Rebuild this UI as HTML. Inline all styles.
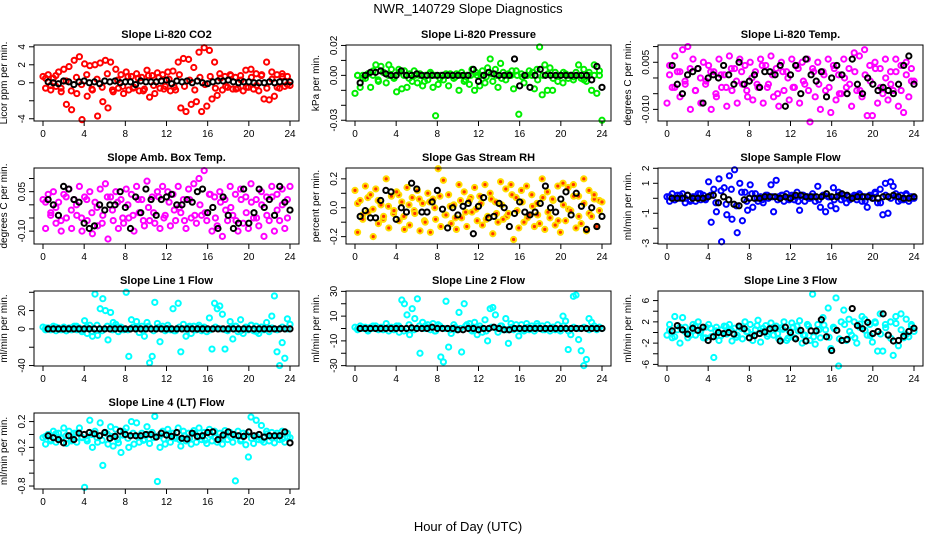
<!DOCTYPE html>
<html><head><meta charset="utf-8"><style>
body{margin:0;background:#fff}
svg{display:block;font-family:"Liberation Sans",sans-serif}
</style></head><body>
<svg id="chart" width="936" height="540" viewBox="0 0 936 540" xmlns="http://www.w3.org/2000/svg">
<rect width="936" height="540" fill="#fff"/>
<text x="468" y="13" text-anchor="middle" font-size="13">NWR_140729  Slope Diagnostics</text>
<text x="468" y="531" text-anchor="middle" font-size="13">Hour of Day (UTC)</text>
</svg>
<script>
const xTicks=[0,4,8,12,16,20,24];
const co2Values=[0.7,-0.6,0.9,-0.8,0.5,-0.4,1.2,-1.0,1.5,-2.4,1.8,-3.0,2.5,-1.2,2.9,-4.1,2.1,-1.5,1.9,-0.8,2.0,-3.7,2.2,-2.1,2.5,-2.8,2.3,-1.0,1.5,-0.6,0.9,-1.2,1.2,-0.8,0.7,-0.5,1.0,-0.9,0.6,-0.7,1.4,-1.6,0.8,-1.2,1.1,-0.6,0.9,-0.4,1.2,-0.9,1.3,-0.8,2.3,-2.8,2.7,-3.2,2.6,-2.4,1.7,-2.1,3.4,-3.2,3.9,-2.6,3.6,-1.8,2.3,-1.4,1.0,-0.8,0.7,-0.5,0.9,-0.7,0.6,-0.6,0.8,-0.9,1.4,-0.5,1.5,-0.7,1.0,-0.9,0.8,-1.8,2.3,-1.9,1.2,-1.5,0.9,-0.6,1.0,-0.4,0.7,-0.3];
const co2Core=[0.5,-0.3,0.8,-0.6,0.2,-0.9,0.6,-0.2,0.9,-0.7,0.4,-0.5,1.0,-0.8,0.3,-0.4,0.7,-0.6,0.5,-0.9,0.8,-0.3,0.6,-0.7,0.4,-0.5,0.9,-0.4,0.3,-0.8,0.6,-0.2,0.7,-0.6,0.5,-0.4,0.8,-0.7,0.3,-0.5,0.6,-0.3,0.9,-0.6,0.4,-0.5,0.7,-0.2];
const co2Mean=[0.1,0,-0.1,0.2,0.1,-0.2,0.1,0.2,0,0.1,-0.1,0.2,0.1,0.2,0,0.1,0.1,-0.2,0.2,0.1,0.1,0.1,0.2,0.3,-0.1,0.2,0.1,0.2,0,0.2,0,-0.1,0.1,0.2,0.2,0.3,0.1,0,0.1,0.1,0,0,0,0.1,0,0.1,0.1,0.1];
const presValues=[-0.012,0,-0.008,0.000,-0.002,0.001,-0.008,0.003,0.007,-0.004,0.006,0.002,-0.005,0.007,0.004,-0.002,-0.011,0.002,-0.009,0.003,-0.008,0.001,-0.004,0.000,-0.005,0.001,-0.007,0.000,-0.003,0.002,-0.008,-0.027,-0.006,0.000,-0.003,0.001,-0.007,0.000,-0.002,0.001,-0.010,0.002,-0.004,0.000,-0.006,0.004,-0.010,0.000,-0.007,0.003,-0.005,0.005,0.011,-0.004,0.004,-0.008,0.008,0.002,-0.003,0.001,0.000,-0.009,0.003,-0.026,0.001,-0.005,0.000,0.003,0.000,-0.009,0.004,0.019,-0.013,0.007,-0.010,0.005,-0.010,0.002,-0.004,0.000,-0.005,0.001,-0.002,0.000,-0.003,0.002,0.007,-0.002,0.004,-0.004,0.000,-0.010,0.007,-0.012,0.003,-0.030];
const presCore=[0,-0.002,0.001,0,-0.003,0.002,0,-0.001,0.004,0,-0.002,0.003,0,-0.004,0.001,0,-0.002,0,0.001,-0.001,0,-0.003,0,0.002,0,-0.001,0.001,0,-0.002,0,0.003,0,-0.001,0,0.002,-0.003,0,0.001,-0.002,0,0.002,0,-0.001,0,-0.003,0.002,0,0];
const presMean=[-0.005,0,0.002,0.002,0.003,0.001,0,0,0.003,0,0,0.001,0,0,0,0,0,0,0,0,0,0,0.004,-0.004,0,0.002,0.001,0,0,0,0.011,-0.007,0,-0.008,0,0.004,0,0,0,0,0,0,0,0,0,-0.003,0.006,-0.008];
const licTempValues=[-0.008,0.004,-0.003,0.007,0.002,-0.006,0.009,-0.002,0.010,-0.010,0.006,-0.004,0.003,-0.008,0.005,-0.001,0.004,-0.010,0.002,-0.006,0.006,-0.003,0.001,-0.009,0.007,-0.004,0.003,-0.008,0.006,-0.002,0.004,-0.006,0.005,-0.007,0.002,-0.003,0.006,-0.008,0.004,-0.002,0.007,-0.006,0.003,-0.009,0.005,-0.004,0.002,-0.007,0.006,-0.003,0.004,-0.008,0.005,-0.002,0.006,-0.014,0.003,-0.006,0.005,-0.010,0.002,-0.004,0.006,-0.011,0.004,-0.007,0.001,-0.005,0.006,-0.003,0.003,-0.009,0.008,-0.004,0.007,-0.006,0.009,-0.012,0.004,-0.012,0.005,-0.008,0.003,-0.005,0.006,-0.007,0.002,-0.004,0.006,-0.009,0.004,-0.011,0.005,-0.006,0.003,-0.001];
const licTempCore=[0.001,-0.003,0.002,-0.001,0.003,-0.004,0,-0.002,0.002,-0.005,0.001,-0.003,0.003,-0.001,0.002,-0.004,0,-0.002,0.004,-0.003,0.001,-0.005,0.002,0,-0.003,0.003,-0.001,-0.004,0.002,-0.002,0.001,-0.003,0.003,-0.005,0,-0.002,0.002,-0.004,0.001,-0.001,0.003,-0.003,0,-0.002,0.002,-0.004,0.001,-0.001];
const licTempMean=[0.004,-0.002,-0.005,0.001,0.002,0.003,-0.008,0,0.001,0,0.004,0.001,-0.002,0.005,-0.002,-0.001,0.001,-0.003,0.002,0.002,0.001,0.004,-0.009,0.001,0.004,-0.005,0.006,0.001,-0.001,0.002,-0.006,0,0.004,0.001,-0.005,0.006,-0.002,-0.005,0,-0.002,-0.004,-0.003,-0.004,-0.005,-0.002,0.004,0.007,-0.002];
const boxTempValues=[0.02,-0.09,0.04,-0.03,0.05,-0.07,0.01,-0.10,0.04,-0.05,0.06,-0.09,0.02,-0.04,0.07,-0.10,0.03,-0.06,0.05,-0.11,0.01,-0.08,0.06,-0.04,0.08,-0.13,0.03,-0.06,0.05,-0.09,0.02,-0.07,0.06,-0.05,0.04,-0.10,0.07,-0.03,0.02,-0.08,0.09,-0.06,0.03,-0.07,0.05,-0.09,0.07,-0.04,0.05,-0.08,0.04,-0.06,0.07,-0.03,0.02,-0.09,0.06,-0.05,0.08,-0.07,0.10,-0.04,0.13,-0.06,0.04,-0.10,0.03,-0.08,0.05,-0.12,0.02,-0.06,0.07,-0.04,0.04,-0.10,0.06,-0.07,0.03,-0.09,0.08,-0.05,0.02,-0.08,0.05,-0.12,0.03,-0.06,0.07,-0.10,0.04,-0.06,0.06,-0.09,0.02,0.07];
const boxTempCore=[0.01,-0.04,-0.01,-0.06,0.03,-0.02,0,-0.05,0.02,-0.03,-0.01,-0.07,0.03,-0.02,0.01,-0.05,0,-0.04,0.02,-0.06,-0.01,-0.03,0.03,-0.05,0.01,-0.02,-0.01,-0.06,0.02,-0.04,0,-0.03,0.04,-0.05,0.01,-0.02,-0.01,-0.06,0.02,-0.03,0.01,-0.05,0,-0.04,0.03,-0.02,0,-0.05];
const boxTempMean=[0.02,0.00,-0.04,0.07,0.06,0.02,0.01,-0.07,-0.09,-0.08,0.00,-0.02,0.00,0.00,0.05,-0.01,-0.09,0.03,-0.03,0.06,0.02,-0.04,0.02,0.03,0.04,0.00,0.00,0.02,0.01,0.05,0.06,-0.03,-0.01,-0.09,0.03,-0.04,-0.09,-0.07,0.06,-0.07,-0.03,0.06,-0.01,0.02,-0.04,0.07,0.01,-0.02];
const rhValues=[0.12,-0.17,0.05,-0.08,0.15,-0.03,0.09,-0.20,0.13,-0.11,0.02,-0.06,0.20,-0.14,0.08,-0.02,0.11,-0.09,0.04,-0.15,0.14,-0.12,0.07,-0.04,0.12,-0.16,0.03,-0.10,0.10,-0.17,0.06,-0.08,0.27,-0.13,0.19,-0.05,0.09,-0.11,0.02,-0.15,0.16,-0.07,0.11,-0.13,0.05,-0.03,0.14,-0.09,0.08,-0.12,0.16,-0.06,0.10,-0.18,0.04,-0.10,0.18,-0.08,0.13,-0.04,0.16,-0.22,0.07,-0.14,0.12,-0.10,0.15,-0.05,0.09,-0.13,0.03,-0.11,0.20,-0.15,0.11,-0.07,0.06,-0.12,0.15,-0.17,0.17,-0.09,0.14,-0.02,0.16,-0.14,0.08,-0.11,0.20,-0.16,0.12,-0.06,0.09,-0.13,0.05,0.04];
const rhCore=[0.03,-0.05,0.07,-0.01,0.05,-0.08,0.01,-0.04,0.09,-0.06,0.02,-0.02,0.06,-0.09,0.04,0,0.08,-0.05,0.01,-0.07,0.05,-0.03,0.07,-0.01,0.03,-0.08,0.06,-0.04,0.02,-0.06,0.09,-0.02,0.04,-0.07,0.01,-0.05,0.07,-0.03,0.05,-0.09,0.02,-0.01,0.08,-0.06,0.03,-0.04,0.06,-0.02];
const rhMean=[-0.06,-0.02,-0.07,-0.07,0.05,0.12,0.11,-0.08,0.00,-0.03,0.17,0.13,-0.03,-0.03,0.04,0.12,-0.01,-0.14,0.00,-0.05,0.01,0.03,-0.18,0.01,0.07,-0.07,-0.06,0.03,0.00,-0.13,-0.04,0.04,-0.03,-0.05,-0.03,0.03,0.15,0.00,-0.03,0.06,0.11,-0.05,0.10,0.01,-0.15,0.00,-0.13,-0.06];
const sampleValues=[0.1,-0.2,0.3,-0.1,0.2,0.0,0.3,-0.3,0.2,-0.1,0.1,-0.2,0.3,-0.1,0.2,0.0,1.1,-1.6,0.6,-0.9,1.3,-2.9,0.7,-1.1,1.5,-1.4,1.9,-2.3,1.0,-1.5,0.4,-0.8,0.9,-0.6,0.3,-0.2,0.1,-0.3,0.2,0.0,0.9,-0.9,1.2,0.1,0.2,-0.2,0.3,-0.1,0.2,-0.1,0.4,-0.8,0.2,-0.2,0.1,0.0,0.3,-0.2,0.8,-0.6,0.2,-0.9,0.1,-0.5,0.7,-0.7,0.4,-0.1,0.2,-0.3,0.1,0.0,0.2,-0.1,0.3,-0.2,0.1,-0.6,0.2,0.0,0.4,-0.3,0.6,-1.1,1.0,-1.0,1.1,0.8,0.3,-0.2,0.2,-0.1,0.3,-0.2,0.1,0.0];
const sampleCore=[0.1,-0.1,0.2,0,-0.2,0.1,0.3,-0.1,0.2,-0.3,0.5,-0.4,0.6,-0.5,0.4,-0.2,0.3,0,-0.1,0.2,0.1,-0.1,0.2,0,0.1,-0.2,0.2,0,0.1,-0.1,0.2,0.1,-0.1,0.2,0,-0.1,0.1,0.2,-0.2,0.1,0.3,-0.3,0.2,0,0.1,-0.1,0.2,0];
const sampleMean=[0,0,0,0.2,0,0,0,0.1,0.2,-0.3,0.1,-0.1,-0.4,-0.5,-0.1,0,0,0,0.1,0.1,0.1,0,0.1,0,0.2,0.2,0.1,0.1,0.1,0.1,0.3,0.1,0.1,0.3,0.2,0,0.1,0.1,0.1,0,0,0.1,0.1,0.2,0.1,0,0,0.1];
const line1Values=[2,-1,1,0,3,-2,1,-1,2,-2,1,-1,3,-1,1,-3,9,-5,4,-8,38,-7,22,33,20,-12,18,7,5,-3,2,-1,40,-30,10,2,8,-4,3,-8,7,-37,-30,29,6,-14,3,-2,4,-1,22,-2,28,-25,5,-8,2,-5,3,-1,4,-2,2,-3,12,-22,28,22,25,16,-22,-2,8,-11,3,-3,10,-5,2,-1,4,-2,3,-5,2,-1,7,-3,14,36,-25,-40,-15,-32,11,5];
const line1Core=[1,-1,2,0,-2,1,3,-1,2,-3,4,-2,3,-1,2,0,-1,2,1,-1,3,-2,2,0,1,-2,2,0,3,-1,2,1,-1,2,0,-1,1,3,-2,1,4,-3,2,0,1,-1,2,0];
const line1Mean=[0,0,0,0,0,0,0,0,0,0,0,0,0,0,0,0,0,0,0,0,0,0,0,0,0,0,0,0,0,0,0,0,0,0,0,0,0,0,0,0,0,0,0,0,0,0,0,0];
const line2Values=[1,-1,2,0,1,-2,1,0,2,-1,1,0,4,-2,1,-1,2,-3,23,20,11,-5,16,8,24,-20,5,2,3,-1,4,-2,3,-23,-27,22,-15,-4,3,-1,13,-19,20,3,4,-2,5,-5,2,-3,7,-10,16,17,11,-3,2,-1,8,-12,4,-1,3,-6,3,-2,4,-1,2,-2,4,0,2,-1,3,-2,1,-1,3,-2,10,6,-17,-5,26,27,-9,-18,-30,-25,8,5,2,-1,1,0];
const line2Core=[0,1,-1,2,0,-1,1,0,2,-2,3,-1,2,0,1,-2,2,0,-1,1,0,2,-1,1,0,-2,1,0,2,-1,1,0,-1,1,0,2,-1,0,1,-1,2,-2,1,0,1,-1,0,1];
const line2Mean=[0,0,0,0,0,0,0,0,0,0,0.5,0,0,0,1,0,0,0,0,-1,-1,0,0,-1,0,0,1,0,-1,-1,0,0,0,0,0,0,0,0,0,0,0,0,0,0,0,0,0,0];
const line3Values=[-0.5,1.5,-1.0,3.0,0.5,-2.0,2.8,1.0,-1.0,0.5,1.5,-0.5,2.0,0.3,-1.0,1.0,1.5,-0.8,-4.7,1.0,-1.5,0.5,1.2,-0.3,1.5,-1.6,0.8,-0.5,1.0,-1.2,2.0,0.2,1.5,-1.5,0.5,2.3,-1.8,0.8,1.3,-0.3,1.8,-0.5,1.2,-1.2,0.9,2.0,-1.5,0.3,1.8,-1.0,1.2,2.2,-2.0,-0.5,1.5,-1.5,7.2,-2.2,1.5,-1.0,2.8,0.5,4.6,-3.0,1.0,6.5,-6.3,2.0,4.2,-1.5,2.5,-0.5,2.0,-2.0,1.0,3.0,2.5,-0.5,1.5,-1.8,2.0,-3.5,3.5,-3.5,1.5,-0.5,2.0,-4.3,3.0,-2.5,3.5,-1.0,2.5,-0.8,1.5,0.2];
const line3Core=[0.5,-0.8,1.0,0.2,-0.5,1.2,0.0,-1.0,0.8,0.3,-0.6,1.1,0.4,-0.9,0.7,0.1,-0.4,1.3,0.2,-0.7,0.9,-0.2,0.6,-1.1,1.0,0.3,-0.5,1.2,-0.8,0.5,1.4,-0.9,0.7,-1.2,1.5,0.2,-1.0,1.6,0.4,-0.6,1.8,-0.3,0.9,-1.1,1.7,0.5,-0.4,1.2];
const line3Mean=[0.3,1.3,0.5,-0.3,0.8,0.4,1.0,-1.5,-0.8,0,-0.2,0,-0.3,1.2,0.7,-1.0,-0.6,-0.2,0.1,0.7,0.8,-1.6,1.0,0,-1.2,0.4,-1.6,0.3,0.3,2.4,-0.8,-3.4,0.4,-1.5,-1.3,4.5,1.3,0.7,1.9,-0.2,0.2,3.5,-0.5,-1.6,-1.5,-0.7,0.2,0.8];
const line4Values=[-0.05,-0.15,0.0,-0.10,0.05,-0.12,0.02,-0.05,0.10,-0.14,0.05,-0.08,0.02,-0.12,0.10,-0.05,-0.82,-0.10,0.22,-0.20,0.05,-0.12,0.18,-0.48,0.03,-0.15,0.12,-0.18,0.08,-0.13,-0.28,0.05,0.10,-0.20,0.20,-0.15,0.18,-0.12,0.02,-0.08,0.12,-0.14,0.03,0.28,-0.73,-0.20,0.05,-0.15,0.08,-0.12,0.02,-0.06,0.10,-0.18,0.05,-0.10,0.02,-0.15,0.06,-0.12,0.10,-0.08,0.03,-0.14,0.08,-0.10,0.05,-0.12,0.02,-0.15,0.06,-0.08,0.03,-0.12,-0.72,0.05,-0.10,0.02,-0.16,-0.35,0.27,-0.14,0.22,-0.08,0.14,-0.12,0.05,-0.10,0.03,-0.13,0.02,-0.08,0.05,-0.12,0.02,-0.05];
const line4Core=[-0.03,-0.08,0.01,-0.06,-0.02,-0.10,0.02,-0.04,-0.07,0.00,-0.05,-0.09,0.01,-0.03,-0.08,-0.01,-0.06,0.02,-0.04,-0.09,0.00,-0.05,-0.02,-0.07,0.01,-0.04,-0.08,-0.02,-0.06,0.02,-0.03,-0.09,0.00,-0.05,-0.07,0.01,-0.04,-0.02,-0.08,0.00,-0.06,-0.03,-0.09,0.01,-0.05,-0.02,-0.07,-0.04];
const line4Mean=[-0.02,-0.05,-0.08,-0.13,-0.02,-0.08,0.02,0.00,0.03,0.01,-0.02,0.03,-0.06,-0.03,0.05,0.00,-0.02,-0.02,-0.02,0.00,0.00,-0.04,0.02,-0.01,-0.03,0.03,-0.06,-0.07,0.02,-0.03,-0.02,0.03,0.04,-0.08,-0.01,0.04,0.00,-0.02,-0.03,0.04,-0.02,0.00,-0.04,-0.02,-0.02,-0.02,0.04,-0.13];

const yTicksCo2=[-4,-2,0,2,4], yLabelsCo2=["-4","","0","2","4"];
const yTicksPres=[-0.03,-0.02,-0.01,0,0.01,0.02], yLabelsPres=["-0.03","","","0.00","","0.02"];
const yTicksLic=[-0.010,-0.005,0,0.005,0.010], yLabelsLic=["-0.010","","","0.005",""];
const yTicksBox=[-0.10,-0.05,0,0.05,0.10], yLabelsBox=["-0.10","","","0.05",""];
const yTicksRh=[-0.2,-0.1,0,0.1,0.2], yLabelsRh=["-0.2","","0.0","","0.2"];
const yTicksSample=[-3,-2,-1,0,1,2], yLabelsSample=["-3","","-1","","1","2"];
const yTicksL1=[-40,-20,0,20,40], yLabelsL1=["-40","","0","20",""];
const yTicksL2=[-30,-20,-10,0,10,20,30], yLabelsL2=["-30","","-10","","10","","30"];
const yTicksL3=[-6,-4,-2,0,2,4,6], yLabelsL3=["-6","","-2","","2","","6"];
const yTicksL4=[-0.8,-0.6,-0.4,-0.2,0,0.2], yLabelsL4=["-0.8","","","-0.2","","0.2"];

const svg=document.getElementById('chart');
const NS='http://www.w3.org/2000/svg';
function mk(tag,attrs,parent){const e=document.createElementNS(NS,tag);for(const k in attrs)e.setAttribute(k,attrs[k]);(parent||svg).appendChild(e);return e;}
const colL=[34,346,658], rowT=[45,168,291,413], rowB=[121,244,366,489], W=265;
const panels=[
 {t:'Slope Li-820 CO2',yl:'Licor ppm per min.',c:0,r:0,v:co2Values,k:co2Core,m:co2Mean,yt:yTicksCo2,ylab:yLabelsCo2,lo:-4.25,hi:4.2,col:'#ff0000',id:'co2'},
 {t:'Slope Li-820 Pressure',yl:'kPa per min.',c:1,r:0,v:presValues,k:presCore,m:presMean,yt:yTicksPres,ylab:yLabelsPres,lo:-0.0305,hi:0.0203,col:'#00ee00',id:'pressure'},
 {t:'Slope Li-820 Temp.',yl:'degrees C per min.',c:2,r:0,v:licTempValues,k:licTempCore,m:licTempMean,yt:yTicksLic,ylab:yLabelsLic,lo:-0.0137,hi:0.0105,col:'#ff00ff',id:'li820-temp'},
 {t:'Slope Amb. Box Temp.',yl:'degrees C per min.',c:0,r:1,v:boxTempValues,k:boxTempCore,m:boxTempMean,yt:yTicksBox,ylab:yLabelsBox,lo:-0.149,hi:0.14,col:'#ff00ff',id:'box-temp'},
 {t:'Slope Gas Stream RH',yl:'percent per min.',c:1,r:1,v:rhValues,k:rhCore,m:rhMean,yt:yTicksRh,ylab:yLabelsRh,lo:-0.251,hi:0.275,col:'#ffdd00',fill:'#ff3300',id:'rh'},
 {t:'Slope Sample Flow',yl:'ml/min per min.',c:2,r:1,v:sampleValues,k:sampleCore,m:sampleMean,yt:yTicksSample,ylab:yLabelsSample,lo:-3.05,hi:2.02,col:'#0000ff',id:'sample-flow'},
 {t:'Slope Line 1 Flow',yl:'ml/min per min.',c:0,r:2,v:line1Values,k:line1Core,m:line1Mean,yt:yTicksL1,ylab:yLabelsL1,lo:-40.5,hi:41.4,col:'#00ffff',id:'line1-flow'},
 {t:'Slope Line 2 Flow',yl:'ml/min per min.',c:1,r:2,v:line2Values,k:line2Core,m:line2Mean,yt:yTicksL2,ylab:yLabelsL2,lo:-30.3,hi:30.3,col:'#00ffff',id:'line2-flow'},
 {t:'Slope Line 3 Flow',yl:'ml/min per min.',c:2,r:2,v:line3Values,k:line3Core,m:line3Mean,yt:yTicksL3,ylab:yLabelsL3,lo:-6.3,hi:7.8,col:'#00ffff',id:'line3-flow'},
 {t:'Slope Line 4 (LT) Flow',yl:'ml/min per min.',c:0,r:3,v:line4Values,k:line4Core,m:line4Mean,yt:yTicksL4,ylab:yLabelsL4,lo:-0.846,hi:0.333,col:'#00ffff',id:'line4-flow'}
];
panels.forEach(p=>{
 const L=colL[p.c], T=rowT[p.r], B=rowB[p.r], R=L+W;
 const g=mk('g',{});
 
 
 const xs=h=>L+9+h*(W-18)/24;
 const ys=v=>B-(v-p.lo)/(p.hi-p.lo)*(B-T);
 const ttl=mk('text',{x:L+W/2,y:T-7,'text-anchor':'middle','font-size':11,'font-weight':'bold'},g);ttl.textContent=p.t;
 
 
 const cx=L-27, cy=(T+B)/2;
 const yl=mk('text',{x:cx,y:cy,'text-anchor':'middle','font-size':10,transform:`rotate(-90 ${cx} ${cy})`},g);yl.textContent=p.yl;
 
 
 const pts=mk('g',{},g);
 
 
 const nk=p.k.length;
 p.k.forEach((v,i)=>{const c=mk('circle',{cx:xs(0.25+i*23.5/(nk-1)),cy:ys(v),r:2.6,fill:p.fill||'none',stroke:p.col,'stroke-width':2},pts);
  
  });
 const n=p.v.length;
 p.v.forEach((v,i)=>{const c=mk('circle',{cx:xs(i*24/(n-1)),cy:ys(v),r:2.6,fill:p.fill||'none',stroke:p.col,'stroke-width':2},pts);
  
  });
 const mg=mk('g',{},g);
 
 
 const m=p.m.length;
 p.m.forEach((v,i)=>{const c=mk('circle',{cx:xs(0.5+i*23.5/(m-1)),cy:ys(v),r:2.6,fill:'none',stroke:'#000','stroke-width':2},mg);
  
  });
 const box=mk('rect',{x:L,y:T,width:W,height:B-T,fill:'none',stroke:'#000','stroke-width':1},g);
 
 
 xTicks.forEach(h=>{mk('line',{x1:xs(h),x2:xs(h),y1:B,y2:B+5,stroke:'#000'},g);
  const t=mk('text',{x:xs(h),y:B+16,'text-anchor':'middle','font-size':10},g);t.textContent=h;
  
  });
 p.yt.forEach((v,i)=>{const y=ys(v);mk('line',{x1:L-5,x2:L,y1:y,y2:y,stroke:'#000'},g);
  if(p.ylab[i]){const t=mk('text',{x:L-9,y:y,'text-anchor':'middle','font-size':10,transform:`rotate(-90 ${L-9} ${y})`},g);t.textContent=p.ylab[i];
  
  }});
});
</script>
</body></html>
